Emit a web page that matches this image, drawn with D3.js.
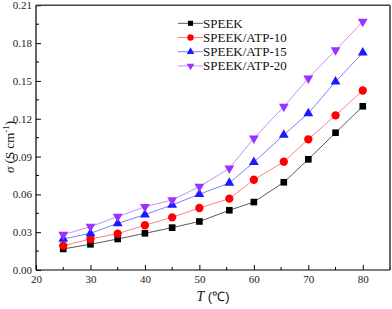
<!DOCTYPE html>
<html>
<head>
<meta charset="utf-8">
<script src="https://cdn.jsdelivr.net/npm/d3@7"></script>
<style>
  body { margin: 0; background: #fff; }
  svg { display: block; }
</style>
</head>
<body>
<div class="chart"></div>
<script>
// temperatures (as measured, slightly off the round values)
var temps = [25, 30, 35, 40, 45, 50, 55.5, 60, 65.5, 70, 75, 80];
var speek  = [0.0167, 0.0204, 0.0246, 0.0291, 0.0336, 0.0385, 0.0474, 0.0539, 0.0696, 0.0878, 0.1089, 0.1299];
var atp10  = [0.0193, 0.0246, 0.0288, 0.0355, 0.0418, 0.0492, 0.0566, 0.0716, 0.0859, 0.1037, 0.1227, 0.1424];
var atp15  = [0.0246, 0.0291, 0.0370, 0.0439, 0.0516, 0.0601, 0.0690, 0.0855, 0.1072, 0.1243, 0.1494, 0.1724];
var atp20  = [0.0280, 0.0344, 0.0423, 0.0502, 0.0555, 0.0661, 0.0807, 0.1045, 0.1296, 0.1521, 0.1745, 0.1970];
var seriesNames = ["SPEEK", "SPEEK/ATP-10", "SPEEK/ATP-15", "SPEEK/ATP-20"];
var xTicks = [20, 30, 40, 50, 60, 70, 80];
var yTicks = [0, 0.03, 0.06, 0.09, 0.12, 0.15, 0.18, 0.21];

var width = 392, height = 309;
var mLeft = 36, mRight = 390, mTop = 5.3, mBottom = 270;

var styles = [
  { marker: d3.symbolSquare, size: 44, fill: "#000000", line: "#5a5a5a" },
  { marker: d3.symbolCircle, size: 54, fill: "#ff0000", line: "#ff8080" },
  { marker: d3.symbolTriangle, size: 42, fill: "#1a1aff", line: "#8080ff" },
  { marker: d3.symbolTriangle, size: 42, fill: "#9a33ff", line: "#c890ff", flip: true }
];
var allData = [speek, atp10, atp15, atp20];

var svg = d3.select(".chart").append("svg")
  .attr("width", width).attr("height", height);

var x = d3.scaleLinear().domain([20, 85]).range([mLeft, mRight]);
var y = d3.scaleLinear().domain([0, 0.21]).range([mBottom, mTop]);

var serif = "'Liberation Serif', 'Times New Roman', serif";

// minor ticks
svg.append("g").selectAll("line")
  .data(d3.range(25, 86, 10))
  .enter().append("line")
  .attr("x1", function (d) { return x(d); }).attr("x2", function (d) { return x(d); })
  .attr("y1", mBottom).attr("y2", mBottom - 3)
  .attr("stroke", "#000").attr("stroke-width", 1);
svg.append("g").selectAll("line")
  .data(d3.range(0.015, 0.21, 0.03))
  .enter().append("line")
  .attr("x1", mLeft).attr("x2", mLeft + 3)
  .attr("y1", function (d) { return y(d); }).attr("y2", function (d) { return y(d); })
  .attr("stroke", "#000").attr("stroke-width", 1);

// axes, ticks pointing inward
var xAxis = svg.append("g")
  .attr("transform", "translate(0," + mBottom + ")")
  .call(d3.axisBottom(x).tickValues(xTicks).tickSizeInner(-5).tickSizeOuter(0).tickPadding(5));
var yAxis = svg.append("g")
  .attr("transform", "translate(" + mLeft + ",0)")
  .call(d3.axisLeft(y).tickValues(yTicks).tickFormat(d3.format(".2f")).tickSizeInner(-5).tickSizeOuter(0).tickPadding(4));

[xAxis, yAxis].forEach(function (a) {
  a.select(".domain").remove();
  a.selectAll("text").style("font-family", serif).style("font-size", "11px").attr("fill", "#222");
  a.selectAll("line").attr("stroke", "#000");
});

// frame
svg.append("line").attr("x1", mLeft).attr("x2", mRight).attr("y1", mTop).attr("y2", mTop)
  .attr("stroke", "#444").attr("stroke-width", 1.6);
svg.append("line").attr("x1", mRight).attr("x2", mRight).attr("y1", mTop).attr("y2", mBottom)
  .attr("stroke", "#444").attr("stroke-width", 1.6);
svg.append("line").attr("x1", mLeft).attr("x2", mLeft).attr("y1", mTop).attr("y2", mBottom)
  .attr("stroke", "#000").attr("stroke-width", 1.2);
svg.append("line").attr("x1", mLeft).attr("x2", mRight).attr("y1", mBottom).attr("y2", mBottom)
  .attr("stroke", "#000").attr("stroke-width", 1.2);

// series
var line = d3.line()
  .x(function (d) { return x(d[0]); })
  .y(function (d) { return y(d[1]); });

allData.forEach(function (vals, i) {
  var st = styles[i];
  var pts = temps.map(function (t, j) { return [t, vals[j]]; });
  svg.append("path")
    .datum(pts)
    .attr("fill", "none")
    .attr("stroke", st.line)
    .attr("stroke-width", 1)
    .attr("d", line);
  svg.append("g").selectAll("path")
    .data(pts)
    .enter().append("path")
    .attr("d", d3.symbol().type(st.marker).size(st.size))
    .attr("transform", function (d) {
      return "translate(" + x(d[0]) + "," + y(d[1]) + ")" + (st.flip ? " rotate(180)" : "");
    })
    .attr("fill", st.fill);
});

// legend (smaller markers than the plot)
var legend = svg.append("g").attr("transform", "translate(178,23.3)");
seriesNames.forEach(function (name, i) {
  var st = styles[i];
  var row = legend.append("g").attr("transform", "translate(0," + (i * 14.2) + ")");
  row.append("line").attr("x1", 0).attr("x2", 25).attr("y1", 0).attr("y2", 0)
    .attr("stroke", st.line).attr("stroke-width", 1);
  row.append("path")
    .attr("d", d3.symbol().type(st.marker).size(st.size * 0.6))
    .attr("transform", "translate(12.5,0)" + (st.flip ? " rotate(180)" : ""))
    .attr("fill", st.fill);
  row.append("text")
    .attr("x", 25).attr("y", 4.5)
    .style("font-family", serif).style("font-size", "13px")
    .attr("fill", "#111")
    .text(name);
});

// axis titles
var xt = svg.append("text")
  .attr("x", 213).attr("y", 301)
  .attr("text-anchor", "middle")
  .style("font-size", "14px")
  .attr("fill", "#111");
xt.append("tspan").style("font-family", serif).style("font-style", "italic").text("T");
xt.append("tspan").style("font-family", "'Liberation Sans', Arial, sans-serif").style("font-size", "13px").text(" (\u2103)");

var yt = svg.append("text")
  .attr("transform", "translate(14,147) rotate(-90)")
  .attr("text-anchor", "middle")
  .style("font-family", serif)
  .style("font-size", "13px")
  .attr("fill", "#111");
yt.append("tspan").style("font-style", "italic").text("\u03C3");
yt.append("tspan").text(" (S cm");
yt.append("tspan").attr("baseline-shift", "super").style("font-size", "9px").text("-1");
yt.append("tspan").text(")");
</script>
</body>
</html>
